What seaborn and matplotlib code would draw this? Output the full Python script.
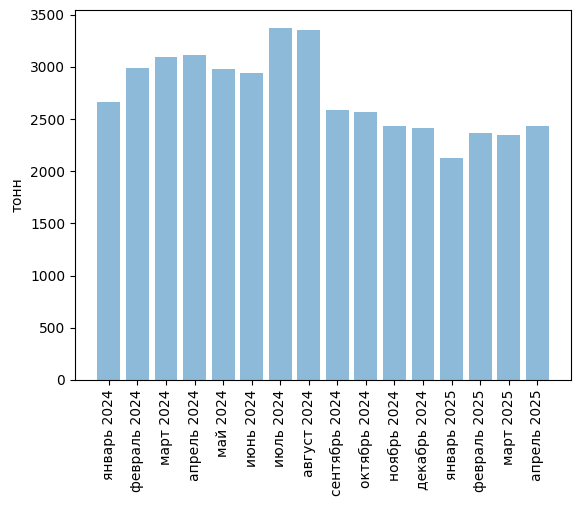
import matplotlib
matplotlib.use("Agg")
import matplotlib.pyplot as plt
import pandas as pd
import seaborn as sns

months = ['январь 2024', 'февраль 2024', 'март 2024', 'апрель 2024',
          'май 2024', 'июнь 2024', 'июль 2024', 'август 2024',
          'сентябрь 2024', 'октябрь 2024', 'ноябрь 2024', 'декабрь 2024',
          'январь 2025', 'февраль 2025', 'март 2025', 'апрель 2025']
tons = [2663, 2990, 3096, 3115, 2981, 2942, 3375, 3356,
        2587, 2567, 2433, 2413, 2125, 2365, 2346, 2433]

df = pd.DataFrame({'month': months, 'tons': tons})

fig, ax = plt.subplots(figsize=(5.8, 5.07), dpi=100)
fig.subplots_adjust(left=0.129, right=0.985, top=0.980, bottom=0.2505)

sns.barplot(data=df, x='month', y='tons', color='#1f77b4', alpha=0.5,
            saturation=1, width=0.8, ax=ax)

n = len(months)
pad = (n - 0.2) * 0.05
ax.set_xlim(-0.4 - pad, n - 0.6 + pad)
ax.set_ylim(0, max(tons) * 1.05)
ax.set_xlabel('')
ax.set_ylabel('тонн')
ax.tick_params(axis='x', rotation=90)

plt.savefig('out.png')
